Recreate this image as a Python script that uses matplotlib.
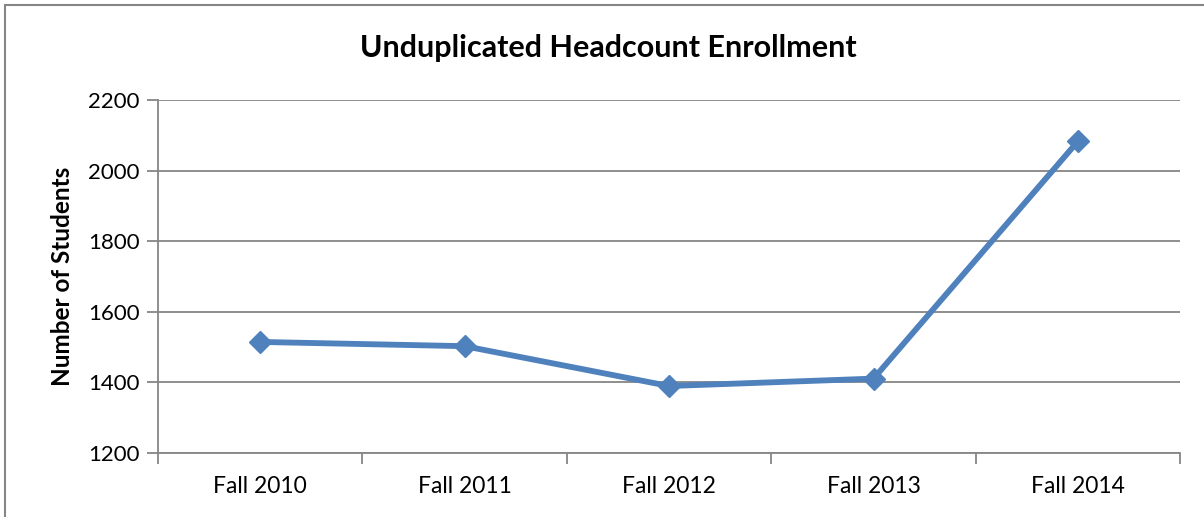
import matplotlib.pyplot as plt
from matplotlib.patches import Rectangle
import numpy as np

terms = ['Fall 2010', 'Fall 2011', 'Fall 2012', 'Fall 2013', 'Fall 2014']
students = [1514, 1502, 1389, 1410, 2083]

plt.rcParams['font.family'] = ['Lato', 'DejaVu Sans']

grey = '#868686'
blue = '#4F81BD'

fig = plt.figure(figsize=(12.04, 5.17), dpi=100)
ax = fig.add_axes([0.1312, 0.1244, 0.849, 0.6822])

x = np.arange(len(terms))
ax.plot(x, students, color=blue, lw=4.2, marker='D', markersize=11.5,
        markerfacecolor=blue, markeredgecolor=blue, zorder=3)

ax.set_xlim(-0.5, len(terms) - 0.5)
ax.set_ylim(1200, 2200)
ax.set_yticks(np.arange(1200, 2201, 200))
ax.yaxis.grid(True, color=grey, lw=1.3)
ax.set_axisbelow(True)

# category ticks sit between the labels, like a spreadsheet chart
ax.set_xticks(np.arange(-0.5, len(terms)), minor=False)
ax.set_xticklabels([])
ax.set_xticks(x, minor=True)
ax.set_xticklabels(terms, minor=True)
ax.tick_params(axis='x', which='major', length=8, width=1.3, color=grey)
ax.tick_params(axis='x', which='minor', length=0, pad=17, labelsize=16.5)
ax.tick_params(axis='y', length=8, width=1.3, color=grey, labelsize=16, pad=5)

for side in ['top', 'right']:
    ax.spines[side].set_visible(False)
for side in ['left', 'bottom']:
    ax.spines[side].set_color(grey)
    ax.spines[side].set_linewidth(1.3)

ax.set_ylabel('Number of Students', fontsize=17.5, fontweight='bold', labelpad=10)
fig.text(0.5055, 0.908, 'Unduplicated Headcount Enrollment', ha='center', va='center',
         fontsize=22, fontweight='bold')

# outer chart frame
fig.patches.append(Rectangle((5 / 1204, -0.1), 1.1, (517 - 5) / 517 + 0.1,
                             transform=fig.transFigure, fill=False,
                             edgecolor=grey, lw=1.5))

fig.savefig('out.png', dpi=100)
